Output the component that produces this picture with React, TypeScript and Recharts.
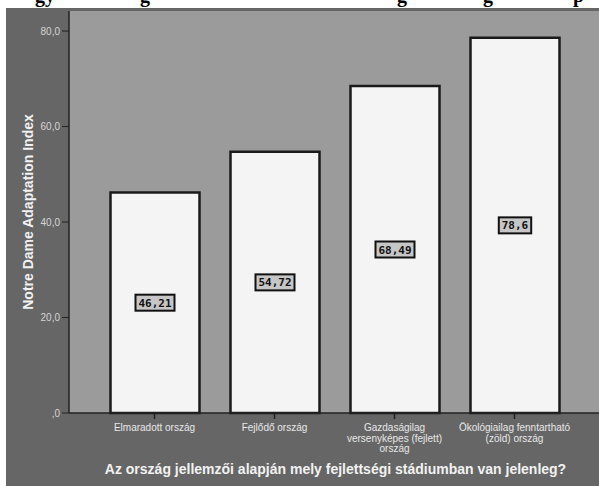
import { BarChart, Bar, XAxis, YAxis, CartesianGrid, LabelList } from "recharts";

const categories = [
  ["Elmaradott ország"],
  ["Fejlődő ország"],
  ["Gazdaságilag", "versenyképes (fejlett)", "ország"],
  ["Ökológiailag fenntartható", "(zöld) ország"],
];
const values = [46.21, 54.72, 68.49, 78.6];
const yTicks = [0, 20, 40, 60, 80];

// descenders of the page heading that sits just above the cropped chart
const headingBits = [
  { t: "gy", x: 35 },
  { t: "g", x: 140 },
  { t: "g", x: 397 },
  { t: "g", x: 483 },
  { t: "p", x: 573 },
];

const data = categories.map((lines, i) => ({ name: lines.join(" "), lines, value: values[i] }));

const comma = (v: number) => String(v).replace(".", ",");
const fmtY = (v: number) => (v === 0 ? ",0" : v.toFixed(1).replace(".", ","));

function XTick(props: any) {
  const { x, y, index } = props;
  const lines = categories[index] || [];
  return (
    <g>
      <line x1={x} x2={x} y1={y - 7} y2={y - 2} stroke="#222" strokeWidth={1.5} />
      {lines.map((l, i) => (
        <text
          key={i}
          x={x}
          y={y + 10 + i * 10.5}
          textAnchor="middle"
          fontSize={10}
          fontFamily="Liberation Sans, Arial, sans-serif"
          fill="#e8e8e8"
        >
          {l}
        </text>
      ))}
    </g>
  );
}

function ValueBox(props: any) {
  const { x, y, width, height, value } = props;
  const cx = x + width / 2;
  const cy = y + height / 2;
  const txt = comma(value);
  const w = txt.length * 6.6 + 6;
  return (
    <g>
      <rect x={cx - w / 2} y={cy - 8} width={w} height={16} fill="#c6c6c6" stroke="#111" strokeWidth={2} />
      <text
        x={cx}
        y={cy + 4}
        textAnchor="middle"
        fontSize={11}
        fontWeight="bold"
        fontFamily="DejaVu Sans Mono, monospace"
        fill="#111"
      >
        {txt}
      </text>
    </g>
  );
}

export default function App() {
  return (
    <div style={{ position: "absolute", left: 0, top: 0, width: 599, height: 486, overflow: "hidden", background: "#fff" }}>
      <svg width={599} height={10} style={{ position: "absolute", left: 0, top: 0 }}>
        {headingBits.map((b, i) => (
          <text key={i} x={b.x} y={1.5} fontSize={20} fontWeight="bold" fontFamily="Liberation Serif, serif" fill="#000">
            {b.t}
          </text>
        ))}
      </svg>
      <div style={{ position: "absolute", left: 6, top: 8, width: 600, height: 478, background: "#666", overflow: "hidden" }}>
        <BarChart width={600} height={478} data={data} margin={{ top: 3, right: 6, bottom: 0, left: 0 }}>
          <CartesianGrid horizontal={false} vertical={false} fill="#9b9b9b" stroke="none" />
          <XAxis
            dataKey="name"
            height={73}
            padding={{ left: 25.5, right: 25.5 }}
            axisLine={{ stroke: "#222", strokeWidth: 1.5 }}
            tickLine={false}
            tick={<XTick />}
            interval={0}
            label={({ viewBox }: any) => (
              <text
                x={viewBox.x + viewBox.width / 2 + 1}
                y={viewBox.y + 61}
                textAnchor="middle"
                fontSize={14}
                fontWeight="bold"
                fontFamily="Liberation Sans, Arial, sans-serif"
                fill="#f2f2f2"
              >
                Az ország jellemzői alapján mely fejlettségi stádiumban van jelenleg?
              </text>
            )}
          />
          <YAxis
            width={63}
            domain={[0, 84.2]}
            ticks={yTicks}
            tickFormatter={fmtY}
            tickSize={7}
            tickMargin={2}
            axisLine={{ stroke: "#222", strokeWidth: 1.5 }}
            tickLine={{ stroke: "#222", strokeWidth: 1 }}
            tick={{ fontSize: 10, fill: "#d4d4d4", fontFamily: "Liberation Sans, Arial, sans-serif" }}
            label={({ viewBox }: any) => {
              const cx = viewBox.x + 22;
              const cy = viewBox.y + viewBox.height / 2;
              return (
                <text
                  x={cx}
                  y={cy}
                  transform={`rotate(-90 ${cx} ${cy})`}
                  textAnchor="middle"
                  dominantBaseline="central"
                  fontSize={14}
                  fontWeight="bold"
                  fontFamily="Liberation Sans, Arial, sans-serif"
                  fill="#f2f2f2"
                >
                  Notre Dame Adaptation Index
                </text>
              );
            }}
          />
          <Bar dataKey="value" barSize={89} fill="#f4f4f4" stroke="#1a1a1a" strokeWidth={2.5} isAnimationActive={false}>
            <LabelList dataKey="value" content={<ValueBox />} />
          </Bar>
        </BarChart>
      </div>
    </div>
  );
}
